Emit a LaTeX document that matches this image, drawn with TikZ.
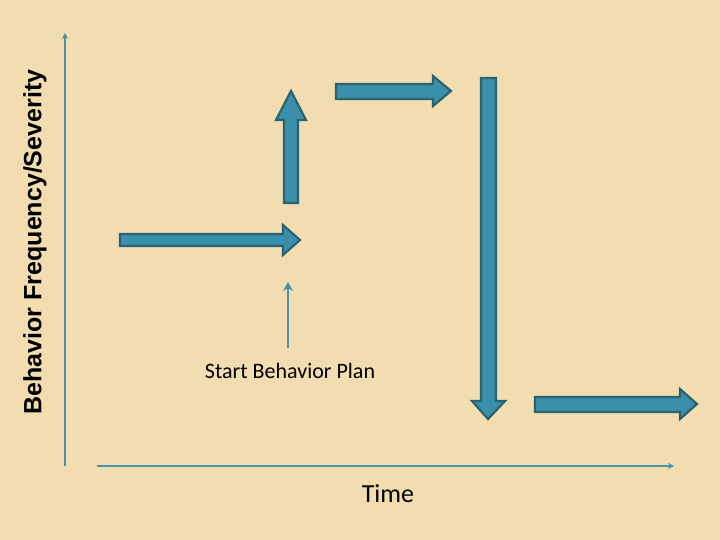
\documentclass[tikz,border=0pt]{standalone}
\usepackage{fontspec}
\usetikzlibrary{arrows.meta}
\setmainfont{Carlito}
\newfontfamily\arialf{Liberation Sans}
\definecolor{bg}{HTML}{F2DDB0}
\definecolor{af}{HTML}{3A8FAA}
\definecolor{ab}{HTML}{2A6272}
\definecolor{ax}{HTML}{4A92A8}
\begin{document}
\begin{tikzpicture}[x=1pt,y=-1pt,
 blk/.style={fill=af,draw=ab,line width=2.2pt,line join=miter},
 thin/.style={draw=ax,line width=2.5pt,-{Stealth[length=9pt,width=10pt]}}]
\fill[bg] (0,0) rectangle (720,540);
\useasboundingbox (0,0) rectangle (720,540);
% axes
\coordinate (y0) at (65,466); \coordinate (y1) at (65,33);
\coordinate (x0) at (97,466); \coordinate (x1) at (674,466);
\draw[draw=ax,line width=2pt,-{Stealth[length=6pt,width=6pt]}] (y0)--(y1);
\draw[draw=ax,line width=2pt,-{Stealth[length=6pt,width=6pt]}] (x0)--(x1);
% block arrows
\draw[blk] (120,234)--(283,234)--(283,225)--(300,240)--(283,255)--(283,246)--(120,246)--cycle;
\draw[blk] (284,203)--(284,120)--(276,120)--(291,91)--(306,120)--(298,120)--(298,203)--cycle;
\draw[blk] (336,84)--(433,84)--(433,76)--(451,91)--(433,106)--(433,99)--(336,99)--cycle;
\draw[blk] (481,78)--(496,78)--(496,401)--(505,401)--(488,419)--(472,401)--(481,401)--cycle;
\draw[blk] (535,397)--(680,397)--(680,389)--(697,404)--(680,419)--(680,412)--(535,412)--cycle;
% thin arrow
\coordinate (t0) at (288,348); \coordinate (t1) at (288,282);
\draw[thin] (t0)--(t1);
\node (sbp) at (290,371) {\fontsize{22}{26}\selectfont Start Behavior Plan};
\node (time) at (388,494) {\fontsize{26}{30}\selectfont Time};
\node[rotate=90] (ylab) at (35,242) {\arialf\bfseries\fontsize{25}{30}\selectfont Behavior Frequency/Severity};
\end{tikzpicture}
\end{document}
